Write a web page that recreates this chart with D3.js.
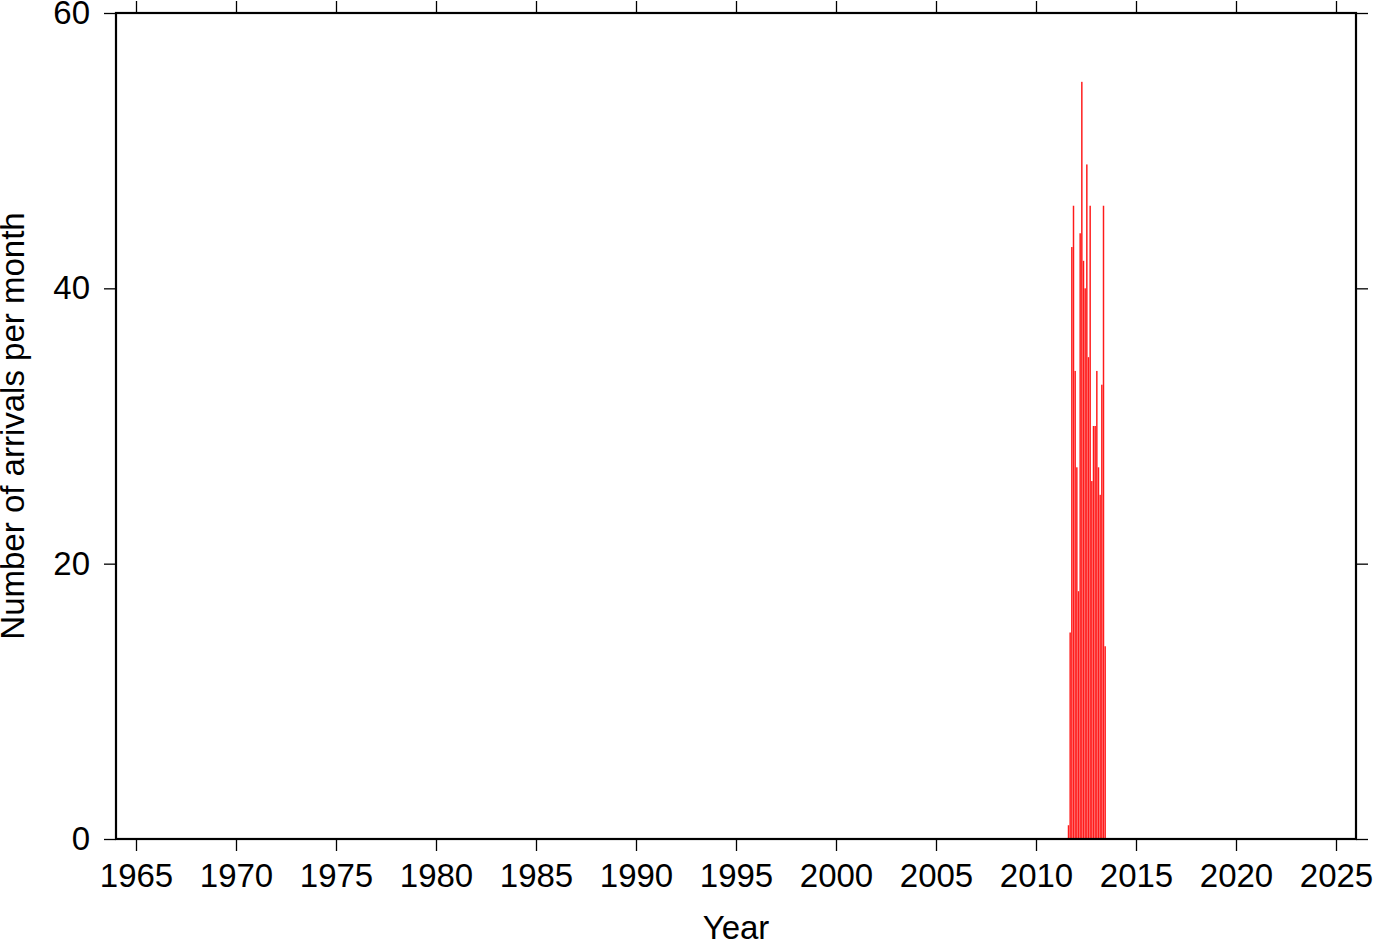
<!DOCTYPE html>
<html>
<head>
<meta charset="utf-8">
<script src="https://cdn.jsdelivr.net/npm/d3@7"></script>
<style>
  html, body { margin: 0; padding: 0; background: #fff; }
  svg { display: block; }
  text { font-family: "Liberation Sans", Arial, Helvetica, sans-serif; fill: #000; }
</style>
</head>
<body>
<svg id="chart" width="1382" height="942"></svg>
<script>
// Monthly arrival counts (month start as "YYYY-MM")
const months = ["2011-08","2011-09","2011-10","2011-11","2011-12",
                "2012-01","2012-02","2012-03","2012-04","2012-05","2012-06",
                "2012-07","2012-08","2012-09","2012-10","2012-11","2012-12",
                "2013-01","2013-02","2013-03","2013-04","2013-05","2013-06"];
const counts = [1,15,43,46,34, 27,18,44,55,42,40, 49,35,46,26,30,30, 34,27,25,33,46,14];
const xTickYears = [1965,1970,1975,1980,1985,1990,1995,2000,2005,2010,2015,2020,2025];
const yTicks = [0,20,40,60];
const xDomain = [1964, 2026];
const yDomain = [0, 60];

(function () {
const svg = d3.select("#chart");
const L = 116, R = 1356, T = 13, B = 839;
const x = d3.scaleLinear().domain(xDomain).range([L, R]);
const y = d3.scaleLinear().domain(yDomain).range([B, T]);

const toYear = s => { const [yy, mm] = s.split("-").map(Number); return yy + (mm - 1) / 12; };
const data = months.map((m, i) => ({ t: toYear(m), v: counts[i] }));

// Bars
svg.append("g").selectAll("rect").data(data).enter().append("rect")
  .attr("x", d => x(d.t) + 0.1)
  .attr("width", d => x(d.t + 1/12) - x(d.t) - 0.2)
  .attr("y", d => y(d.v))
  .attr("height", d => y(0) - y(d.v))
  .attr("fill", "#ff1a1a");

const fs = 33;
const gBottom = svg.append("g").attr("transform", `translate(0,${B})`)
  .call(d3.axisBottom(x).tickValues(xTickYears).tickFormat(d3.format("d")).tickSize(12).tickSizeOuter(0).tickPadding(14));
const gTop = svg.append("g").attr("transform", `translate(0,${T})`)
  .call(d3.axisTop(x).tickValues(xTickYears).tickFormat("").tickSize(12).tickSizeOuter(0));
const gLeft = svg.append("g").attr("transform", `translate(${L},0)`)
  .call(d3.axisLeft(y).tickValues(yTicks).tickFormat(d3.format("d")).tickSize(12).tickSizeOuter(0).tickPadding(14));
const gRight = svg.append("g").attr("transform", `translate(${R},0)`)
  .call(d3.axisRight(y).tickValues(yTicks).tickFormat("").tickSize(12).tickSizeOuter(0));

[gBottom, gTop, gLeft, gRight].forEach(g => {
  g.select(".domain").remove();
  g.selectAll(".tick line").attr("stroke", "#000").attr("stroke-width", 1.3);
  g.selectAll("text").attr("font-size", fs).attr("font-family", "Liberation Sans, Arial, sans-serif").attr("fill", "#000");
});
gBottom.selectAll("text").attr("dy", "0.68em");

// Frame
svg.append("rect").attr("x", L).attr("y", T).attr("width", R - L).attr("height", B - T)
  .attr("fill", "none").attr("stroke", "#000").attr("stroke-width", 2.2);

// Axis titles
svg.append("text").attr("x", (L + R) / 2).attr("y", 939).attr("text-anchor", "middle")
  .attr("font-size", fs).text("Year");
svg.append("text").attr("transform", `translate(24,${(T + B) / 2}) rotate(-90)`)
  .attr("text-anchor", "middle").attr("font-size", fs).text("Number of arrivals per month");
})();
</script>
</body>
</html>
